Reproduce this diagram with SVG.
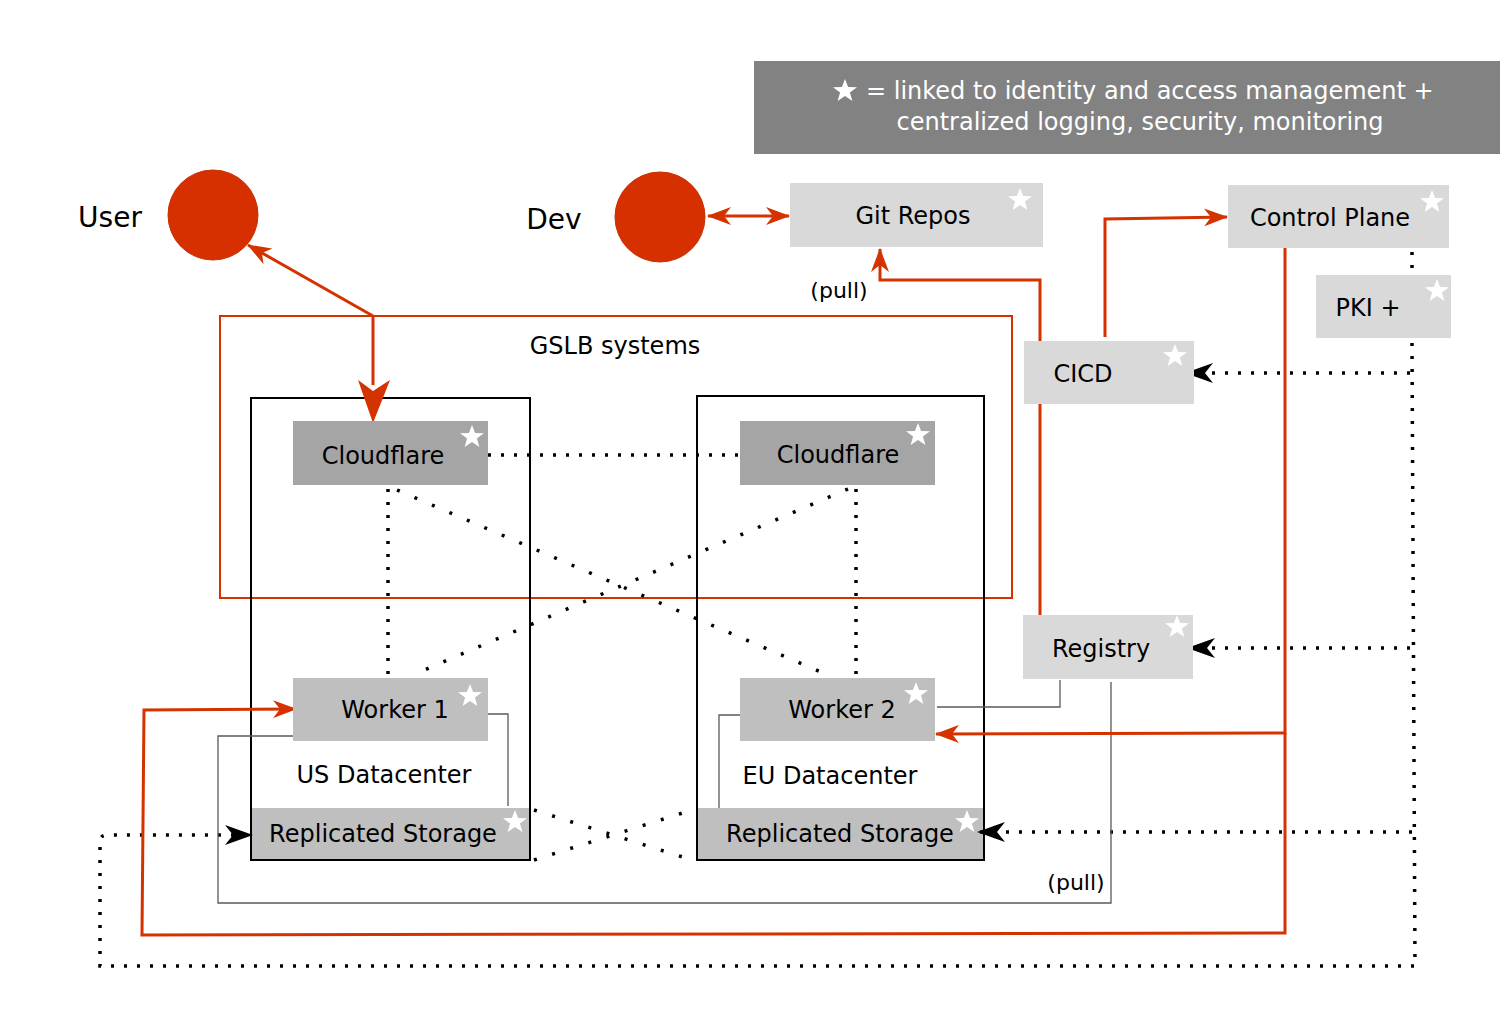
<svg xmlns="http://www.w3.org/2000/svg" xmlns:xlink="http://www.w3.org/1999/xlink" width="1500" height="1013" viewBox="0 0 1500 1013">
<style>
text{font-family:"DejaVu Sans","Liberation Sans",sans-serif;fill:#000}
.t24{font-size:24px}
.mid{text-anchor:middle}
.light{fill:#d9d9d9}
.cf{fill:#a5a5a5}
.wk{fill:#bfbfbf}
.dot{fill:none;stroke:#000;stroke-width:3.5;stroke-dasharray:3 10}
.dot2{fill:none;stroke:#000;stroke-width:3.5;stroke-dasharray:3 16}
.red{fill:none;stroke:#d43300;stroke-width:3}
.gray{fill:none;stroke:#595959;stroke-width:1.3}
.dc{fill:none;stroke:#000;stroke-width:2}
</style>
<defs>
<polygon id="star" fill="#fff" points="0,-12 3.1,-4 12,-3.8 4.9,1.6 7.4,10 0,5.1 -7.4,10 -4.9,1.6 -12,-3.8 -3.1,-4"/>
<marker id="ra" markerUnits="userSpaceOnUse" viewBox="0 0 24 18" refX="23" refY="9" markerWidth="24" markerHeight="18" orient="auto-start-reverse">
<path d="M0,0 L24,9 L0,18 L7,9 z" fill="#d43300"/>
</marker>
<marker id="ba" markerUnits="userSpaceOnUse" viewBox="0 0 28 20" refX="27" refY="10" markerWidth="28" markerHeight="20" orient="auto">
<path d="M0,0 L28,10 L0,20 L8,10 z" fill="#000"/>
</marker>
</defs>
<rect width="1500" height="1013" fill="#fff"/>

<g id="legend">
<rect x="754" y="61" width="746" height="93" fill="#828282"/>
<use href="#star" x="845" y="91"/>
<text x="866" y="99" class="t24" style="fill:#fff">= linked to identity and access management +</text>
<text x="1140" y="130" class="t24 mid" style="fill:#fff">centralized logging, security, monitoring</text>
</g>

<g id="gslb">
<rect x="220" y="316" width="792" height="282" fill="none" stroke="#d43300" stroke-width="2"/>
<text x="615" y="354" class="t24 mid">GSLB systems</text>
</g>

<g id="us-datacenter">
<rect x="252" y="808" width="277" height="51" class="wk"/>
<rect x="251" y="398" width="279" height="462" class="dc"/>
<text x="384" y="783" class="t24 mid">US Datacenter</text>
</g>
<g id="eu-datacenter">
<rect x="698" y="808" width="285" height="51" class="wk"/>
<rect x="697" y="396" width="287" height="464" class="dc"/>
<text x="830" y="784" class="t24 mid">EU Datacenter</text>
</g>

<g id="connectors">
<path class="dot" d="M488,455 H740"/>
<path class="dot" d="M388,489 V678"/>
<path class="dot" d="M856,489 V678"/>
<path class="dot2" d="M397,490 L830,676"/>
<path class="dot2" d="M848,489 L415,674"/>
<path class="dot2" d="M534,810 L692,860"/>
<path class="dot2" d="M534,860 L692,810"/>
<path class="dot" d="M1412,252 V272"/>
<path class="dot" d="M1412,343 L1415,966 H100 V842 Q100,835 107,835 H252" marker-end="url(#ba)"/>
<path class="dot" d="M1410,373 H1186" marker-end="url(#ba)"/>
<path class="dot" d="M1410,648 H1188" marker-end="url(#ba)"/>
<path class="dot" d="M1412,832 H978" marker-end="url(#ba)"/>

<path class="gray" d="M488,714 H508 V806"/>
<path class="gray" d="M293,736 H218 V903 H1111 V682"/>
<path class="gray" d="M740,715 H719 V808"/>
<path class="gray" d="M937,707 H1060 V680"/>

<path class="red" d="M373,316 L248,245" marker-end="url(#ra)"/>
<path class="red" d="M373,316 V385"/>
<path d="M358,380 L373,423 L390,380 L373,391 z" fill="#d43300"/>
<path class="red" d="M708,216 H789" marker-start="url(#ra)" marker-end="url(#ra)"/>
<path class="red" d="M1040,615 V280 H880 V249" marker-end="url(#ra)"/>
<path class="red" d="M1105,337 V219 L1227,217" marker-end="url(#ra)"/>
<path class="red" d="M1285,248 V733 L936,734" marker-end="url(#ra)"/>
<path class="red" d="M1285,733 V933 L142,935 L144,710 L296,709" marker-end="url(#ra)"/>
<text x="839" y="298" style="font-size:22px" class="mid">(pull)</text>
<text x="1076" y="890" style="font-size:22px" class="mid">(pull)</text>
</g>

<g id="user">
<circle cx="213" cy="215" r="45" fill="#d63000" stroke="#c83000" stroke-width="1"/>
<text x="110" y="227" style="font-size:28px" class="mid">User</text>
</g>
<g id="dev">
<circle cx="660" cy="217" r="45" fill="#d63000" stroke="#c83000" stroke-width="1"/>
<text x="554" y="229" style="font-size:28px" class="mid">Dev</text>
</g>

<g id="git-repos">
<rect x="790" y="183" width="253" height="64" class="light"/>
<text x="913" y="224" class="t24 mid">Git Repos</text>
<use href="#star" x="1020" y="200"/>
</g>
<g id="control-plane">
<rect x="1228" y="185" width="221" height="63" class="light"/>
<text x="1330" y="226" class="t24 mid">Control Plane</text>
<use href="#star" x="1432" y="202"/>
</g>
<g id="pki">
<rect x="1316" y="275" width="135" height="63" class="light"/>
<text x="1368" y="316" class="t24 mid">PKI +</text>
<use href="#star" x="1437" y="291"/>
</g>
<g id="cicd">
<rect x="1024" y="341" width="170" height="63" class="light"/>
<text x="1083" y="382" class="t24 mid">CICD</text>
<use href="#star" x="1175" y="356"/>
</g>
<g id="registry">
<rect x="1023" y="615" width="170" height="64" class="light"/>
<text x="1101" y="657" class="t24 mid">Registry</text>
<use href="#star" x="1177" y="627"/>
</g>

<g id="cloudflare-us">
<rect x="293" y="421" width="195" height="64" class="cf"/>
<text x="383" y="464" class="t24 mid">Cloudflare</text>
<use href="#star" x="472" y="437"/>
</g>
<g id="cloudflare-eu">
<rect x="740" y="421" width="195" height="64" class="cf"/>
<text x="838" y="463" class="t24 mid">Cloudflare</text>
<use href="#star" x="918" y="435"/>
</g>
<g id="worker-1">
<rect x="293" y="678" width="195" height="63" class="wk"/>
<text x="395" y="718" class="t24 mid">Worker 1</text>
<use href="#star" x="470" y="696"/>
</g>
<g id="worker-2">
<rect x="740" y="678" width="195" height="63" class="wk"/>
<text x="842" y="718" class="t24 mid">Worker 2</text>
<use href="#star" x="916" y="694"/>
</g>
<g id="storage-us">
<text x="383" y="842" class="t24 mid">Replicated Storage</text>
<use href="#star" x="515" y="822"/>
</g>
<g id="storage-eu">
<text x="840" y="842" class="t24 mid">Replicated Storage</text>
<use href="#star" x="967" y="822"/>
</g>
</svg>
